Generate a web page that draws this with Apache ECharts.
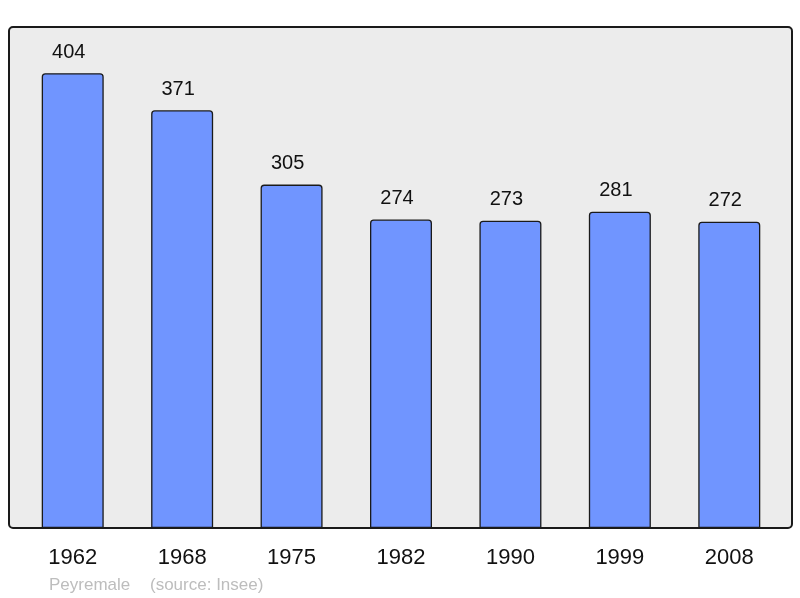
<!DOCTYPE html>
<html>
<head>
<meta charset="utf-8">
<script src="https://cdn.jsdelivr.net/npm/echarts@6/dist/echarts.min.js"></script>
<style>
    html, body { margin: 0; padding: 0; background: #fff; }
    #chart { width: 800px; height: 598px; }
</style>
</head>
<body>
<div id="chart"></div>
<script>
// population by census year
var years = ['1962', '1968', '1975', '1982', '1990', '1999', '2008'];
var population = [404, 371, 305, 274, 273, 281, 272];
var townName = 'Peyremale';
var sourceText = '(source: Insee)';

var PopulationOption = {
    animation: false,
    textStyle: {
        fontFamily: 'Liberation Sans, Arial, sans-serif'
    },
    graphic: [
        {
            // the grey frame behind the bars
            type: 'rect',
            z: -10,
            shape: { x: 9, y: 27, width: 783, height: 501, r: 4 },
            style: { fill: '#ececec', stroke: '#1a1a1a', lineWidth: 2 }
        },
        {
            type: 'text',
            left: 49,
            top: 577,
            style: {
                text: townName,
                fill: '#bdbdbd',
                font: '17px Liberation Sans, Arial, sans-serif'
            }
        },
        {
            type: 'text',
            left: 150,
            top: 577,
            style: {
                text: sourceText,
                fill: '#bdbdbd',
                font: '17px Liberation Sans, Arial, sans-serif'
            }
        }
    ],
    grid: {
        left: 18,
        right: 16,
        top: 27,
        bottom: 70
    },
    xAxis: [
        {
            type: 'category',
            data: years,
            axisLine: { show: false },
            axisTick: { show: false },
            axisLabel: {
                color: '#111',
                fontSize: 22,
                margin: 19
            }
        }
    ],
    yAxis: [
        {
            type: 'value',
            min: 0,
            max: 445,
            show: false
        }
    ],
    series: [
        {
            type: 'bar',
            data: population,
            barWidth: 62,
            itemStyle: {
                color: '#7095ff',
                borderColor: '#1a1a1a',
                borderWidth: 1.3,
                borderRadius: [3, 3, 0, 0]
            },
            label: {
                show: true,
                position: 'top',
                distance: 11,
                offset: [-4, 0],
                color: '#111',
                fontSize: 20
            }
        }
    ]
};

var PopulationChart = echarts.init(document.getElementById('chart'));
PopulationChart.setOption(PopulationOption, true);
</script>
</body>
</html>
